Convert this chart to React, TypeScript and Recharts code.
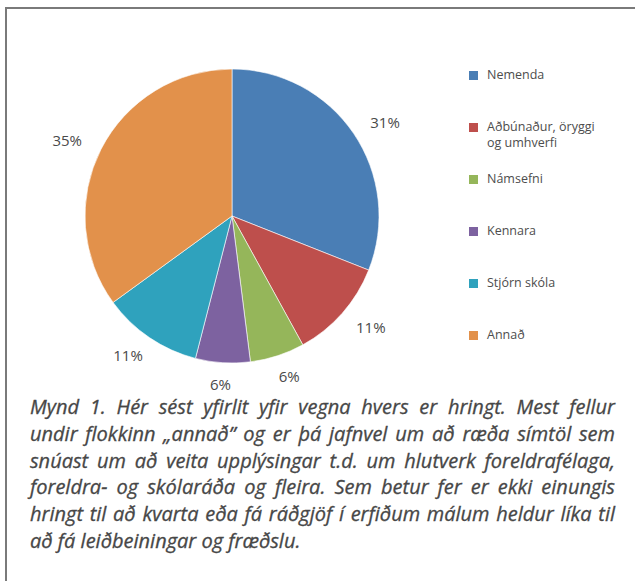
import React from 'react';
import { PieChart, Pie, Cell, Legend } from 'recharts';

const categories = ['Nemenda', 'Aðbúnaður, öryggi og umhverfi', 'Námsefni', 'Kennara', 'Stjórn skóla', 'Annað'];
const shares = [31, 11, 6, 6, 11, 35];
const colors = ['#4A7EB5', '#BE4F4C', '#95B65A', '#7D62A0', '#2FA2BD', '#E2914B'];

const captionLines = [
  'Mynd 1. Hér sést yfirlit yfir vegna hvers er hringt. Mest fellur',
  'undir flokkinn „annað” og er þá jafnvel um að ræða símtöl sem',
  'snúast um að veita upplýsingar t.d. um hlutverk foreldrafélaga,',
  'foreldra- og skólaráða og fleira. Sem betur fer er ekki einungis',
  'hringt til að kvarta eða fá ráðgjöf í erfiðum málum heldur líka til',
  'að fá leiðbeiningar og fræðslu.',
];

const data = categories.map((name, i) => ({ name, value: shares[i] }));

const RAD = Math.PI / 180;
const font = '"Open Sans", sans-serif';

const renderLabel = ({ cx, cy, midAngle, outerRadius, value }: any) => {
  // labels sit on a slightly flattened ring around the pie
  const x = cx + (outerRadius + 38) * Math.cos(-midAngle * RAD);
  const y = cy + (outerRadius + 21) * Math.sin(-midAngle * RAD);
  return (
    <text x={x} y={y} fill="#4a4a4a" fontSize={15} fontFamily={font} textAnchor="middle" dominantBaseline="central">
      {value}%
    </text>
  );
};

// legend keeps the data order (recharts would sort it by name)
const renderLegend = () => (
  <div style={{ fontFamily: font, fontSize: 12.5, color: '#4d4d4d', lineHeight: '16px' }}>
    {categories.map((name, i) => (
      <div key={name} style={{ display: 'flex', alignItems: 'flex-start', height: 52 }}>
        <span style={{ width: 9, height: 9, marginTop: 4, marginRight: 9, background: colors[i], flex: 'none' }} />
        <span style={{ width: 112 }}>{name}</span>
      </div>
    ))}
  </div>
);

export default function App() {
  return (
    <div style={{ position: 'absolute', left: 0, top: 0, width: 635, height: 581, overflow: 'hidden', background: '#fff' }}>
      <div style={{ position: 'absolute', left: 5, top: 7, width: 700, height: 700, border: '2px solid #7a7a7a' }} />
      <div style={{ position: 'absolute', left: 0, top: 0 }}>
        <PieChart width={635} height={400}>
          <Pie
            data={data}
            dataKey="value"
            nameKey="name"
            cx={227}
            cy={211}
            outerRadius={147}
            startAngle={90}
            endAngle={-270}
            stroke="#ffffff"
            strokeWidth={0.6}
            label={renderLabel}
            labelLine={false}
            isAnimationActive={false}
          >
            {data.map((d, i) => <Cell key={d.name} fill={colors[i]} />)}
          </Pie>
          <Legend
            layout="vertical"
            align="right"
            verticalAlign="top"
            content={renderLegend}
            wrapperStyle={{ left: 469, top: 67, width: 140 }}
          />
        </PieChart>
      </div>
      <div style={{ position: 'absolute', left: 30, top: 394, width: 585, fontFamily: font, fontStyle: 'italic', fontSize: 20, lineHeight: '26.8px', color: '#474747', WebkitTextStroke: '0.3px #474747' } as any}>
        {captionLines.map((line, i) => (
          <div
            key={i}
            style={{ whiteSpace: 'nowrap', textAlign: 'justify', textAlignLast: i < captionLines.length - 1 ? 'justify' : 'left' } as any}
          >
            {line}
          </div>
        ))}
      </div>
    </div>
  );
}
